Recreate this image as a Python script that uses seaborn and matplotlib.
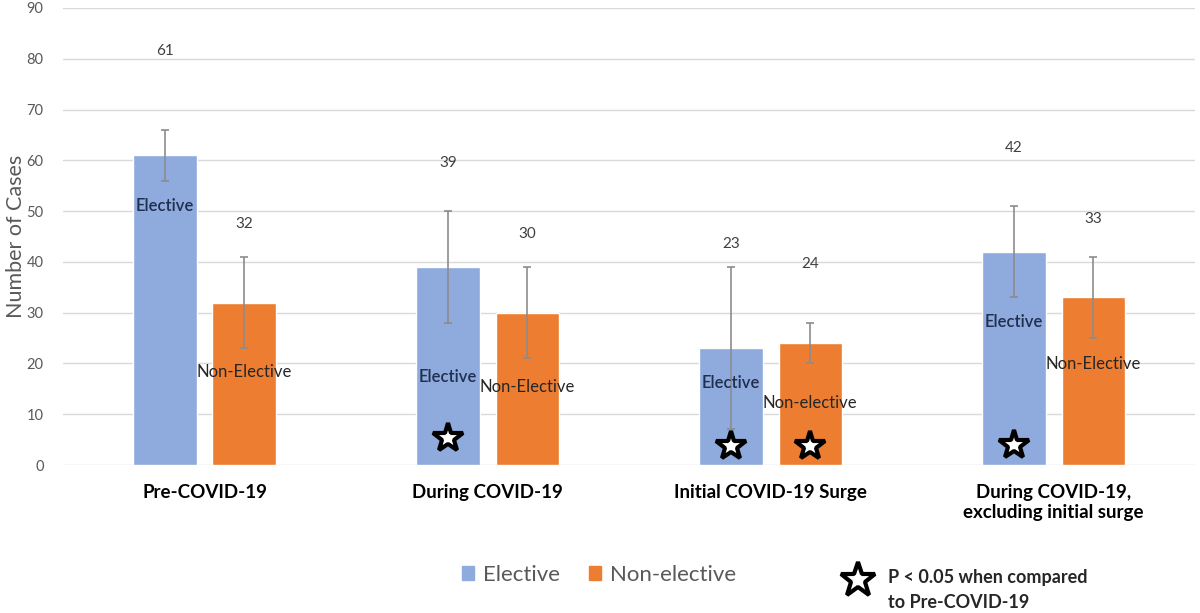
import pandas as pd
import matplotlib
matplotlib.use("Agg")
import matplotlib.pyplot as plt
from matplotlib.patches import Patch
from matplotlib.lines import Line2D
import seaborn as sns

# data
periods = ["Pre-COVID-19", "During COVID-19", "Initial COVID-19 Surge",
           "During COVID-19,\nexcluding initial surge"]
elective = [61, 39, 23, 42]
non_elective = [32, 30, 24, 33]
elective_err = [5, 11, 16, 9]
non_elective_err = [9, 9, 4, 8]
elective_names = ["Elective", "Elective", "Elective", "Elective"]
non_elective_names = ["Non-Elective", "Non-Elective", "Non-elective", "Non-Elective"]
# where the in-bar labels sit (in data units), as in the original
elective_name_y = [51, 17.3, 16.1, 28.1]
non_elective_name_y = [18.3, 15.4, 12.2, 19.9]
# significance stars (P < 0.05 vs Pre-COVID-19)
elective_star = [False, True, True, True]
non_elective_star = [False, False, True, False]
star_y = [4, 5.3, 3.7, 4]

BLUE = "#8faadc"
ORANGE = "#ed7d31"

df = pd.DataFrame({
    "Period": periods * 2,
    "Cases": elective + non_elective,
    "Type": ["Elective"] * 4 + ["Non-elective"] * 4,
})

sns.set_style("white")
plt.rcParams["font.family"] = ["Lato", "DejaVu Sans"]

fig = plt.figure(figsize=(12, 6.13), dpi=100)
ax = fig.add_axes([0.0525, 0.2414, 0.9435, 0.7456])

sns.barplot(data=df, x="Period", y="Cases", hue="Type", order=periods,
            hue_order=["Elective", "Non-elective"],
            palette=[BLUE, ORANGE], saturation=1, width=0.56, gap=0.2,
            errorbar=None, legend=False, ax=ax, zorder=2)

series = [
    (elective, elective_err, elective_names, elective_name_y, elective_star, 20.5, "#1f2f4f", "semibold"),
    (non_elective, non_elective_err, non_elective_names, non_elective_name_y, non_elective_star, 15.5, "#262626", "normal"),
]
for cont, (vals, errs, names, name_y, stars, lab_off, tcol, wt) in zip(ax.containers, series):
    xs = [p.get_x() + p.get_width() / 2 for p in cont.patches]
    ax.errorbar(xs, vals, yerr=errs, fmt="none", ecolor="#8c8c8c",
                elinewidth=1.2, capsize=3, capthick=1.2, zorder=3)
    for x, v, n, ny, st, sy in zip(xs, vals, names, name_y, stars, star_y):
        ax.text(x, v + lab_off, str(v), ha="center", va="center",
                fontsize=11, color="#404040")
        ax.text(x, ny, n, ha="center", va="center", fontsize=12,
                color=tcol, fontweight=wt, zorder=4)
        if st:
            ax.plot(x, sy, marker="*", markersize=22, markerfacecolor="white",
                    markeredgecolor="black", markeredgewidth=3, zorder=5)

ax.set_xlim(-0.5, len(periods) - 0.5)
ax.set_ylim(0, 90)
ax.set_yticks(range(0, 91, 10))
ax.yaxis.grid(True, color="#d9d9d9", linewidth=1, zorder=0)
ax.set_axisbelow(True)
for s in ax.spines.values():
    s.set_visible(False)
ax.tick_params(axis="both", length=0)
ax.tick_params(axis="y", labelcolor="#595959", labelsize=10.5, pad=14)
ax.tick_params(axis="x", labelcolor="black", pad=14)
for lab in ax.get_xticklabels():
    lab.set_fontweight("bold")
    lab.set_fontsize(13.5)
ax.set_xlabel("")
ax.set_ylabel("Number of Cases", fontsize=15.5, color="#595959")
ax.yaxis.set_label_coords(-0.033, 0.5)

handles = [Patch(color=BLUE, label="Elective"), Patch(color=ORANGE, label="Non-elective")]
leg = fig.legend(handles=handles, loc="center", bbox_to_anchor=(0.499, 0.062), ncol=2,
                 frameon=False, fontsize=16, handlelength=0.55, handleheight=0.55,
                 handletextpad=0.4, columnspacing=1.3)
for t in leg.get_texts():
    t.set_color("#595959")

# significance key
fig.add_artist(Line2D([858 / 1200], [1 - 580 / 613], transform=fig.transFigure,
                      linestyle="none", marker="*", markersize=26,
                      markerfacecolor="white", markeredgecolor="black", markeredgewidth=3))
fig.text(888 / 1200, 1 - 590 / 613, "P < 0.05 when compared\nto Pre-COVID-19",
         ha="left", va="center", fontsize=13, fontweight="bold", linespacing=1.55)

fig.savefig("out.png", dpi=100)
